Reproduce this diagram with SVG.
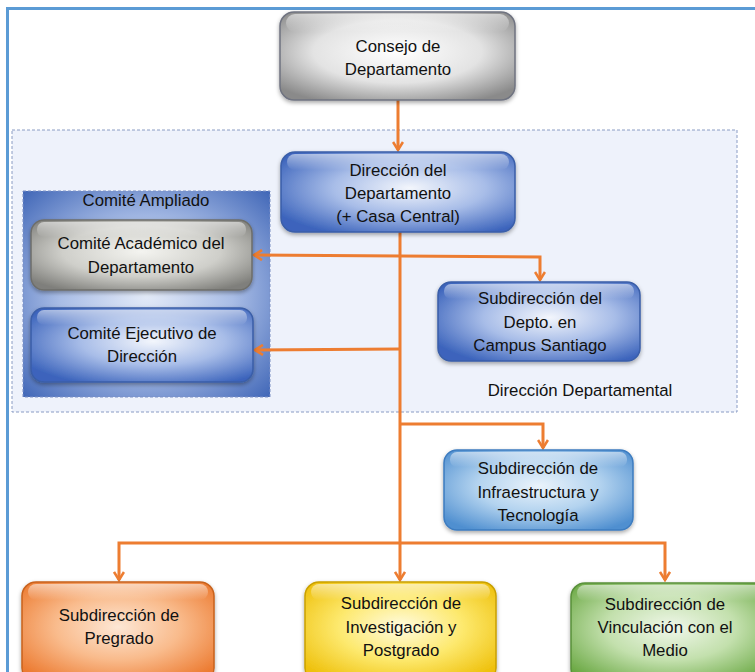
<svg xmlns="http://www.w3.org/2000/svg" width="755" height="672" viewBox="0 0 755 672">
<defs>
<style>
.t{font-family:"Liberation Sans",Arial,sans-serif;font-size:16.8px;fill:#111;text-anchor:middle}
.box{stroke-width:1.5}
.c{fill:none;stroke:#ED7D31;stroke-width:3}
</style>
<radialGradient id="gGray" cx="50%" cy="45%" r="65%"><stop offset="0" stop-color="#ffffff"/><stop offset="0.55" stop-color="#e3e3e3"/><stop offset="1" stop-color="#8a8a8a"/></radialGradient>
<radialGradient id="gGray2" cx="50%" cy="45%" r="65%"><stop offset="0" stop-color="#f4f4f0"/><stop offset="0.55" stop-color="#cfcfca"/><stop offset="1" stop-color="#7f7f7b"/></radialGradient>
<radialGradient id="gBlue" cx="55%" cy="45%" r="65%"><stop offset="0" stop-color="#f3f6fc"/><stop offset="0.5" stop-color="#a8bde8"/><stop offset="1" stop-color="#3c64bc"/></radialGradient>
<radialGradient id="gLBlue" cx="50%" cy="45%" r="65%"><stop offset="0" stop-color="#eaf3fb"/><stop offset="0.5" stop-color="#b3d3ef"/><stop offset="1" stop-color="#4f8fd0"/></radialGradient>
<radialGradient id="gOrange" cx="50%" cy="45%" r="65%"><stop offset="0" stop-color="#fde7d5"/><stop offset="0.5" stop-color="#f9bb8c"/><stop offset="1" stop-color="#ec7a30"/></radialGradient>
<radialGradient id="gYellow" cx="50%" cy="45%" r="65%"><stop offset="0" stop-color="#fffbe0"/><stop offset="0.5" stop-color="#fde96e"/><stop offset="1" stop-color="#eebf08"/></radialGradient>
<radialGradient id="gGreen" cx="50%" cy="45%" r="65%"><stop offset="0" stop-color="#f0f7ea"/><stop offset="0.5" stop-color="#c3e0ad"/><stop offset="1" stop-color="#6aa843"/></radialGradient>
<radialGradient id="gAmp" cx="50%" cy="50%" r="70%"><stop offset="0" stop-color="#e4ebf8"/><stop offset="0.5" stop-color="#a9bde6"/><stop offset="1" stop-color="#4268b8"/></radialGradient>
<linearGradient id="hl" x1="0" y1="0" x2="0" y2="1"><stop offset="0" stop-color="#fff" stop-opacity="0.55"/><stop offset="1" stop-color="#fff" stop-opacity="0"/></linearGradient>
<filter id="sh" x="-10%" y="-10%" width="120%" height="130%"><feDropShadow dx="0" dy="2" stdDeviation="2" flood-color="#000" flood-opacity="0.35"/></filter>
<marker id="arr" viewBox="0 0 12 12" refX="10" refY="6" markerWidth="12" markerHeight="12" markerUnits="userSpaceOnUse" orient="auto"><polyline points="2,1 10,6 2,11" fill="none" stroke="#ED7D31" stroke-width="2.6" stroke-linejoin="miter"/></marker>
</defs>
<rect x="0" y="0" width="755" height="672" fill="#ffffff"/>
<rect x="7.5" y="8.5" width="770" height="700" fill="none" stroke="#5b9bd5" stroke-width="3"/>

<g id="region-direccion-departamental">
<rect x="12" y="130" width="725" height="282" fill="#eef2fb" stroke="#8a9cc4" stroke-width="1" stroke-dasharray="3,2"/>
<text class="t" x="580" y="396">Dirección Departamental</text>
</g>

<g id="comite-ampliado">
<rect x="23" y="191" width="247" height="206" fill="url(#gAmp)" stroke="#7a8fc4" stroke-width="1" stroke-dasharray="3,2"/>
<text class="t" x="146" y="206">Comité Ampliado</text>
</g>

<g id="connectors">
<line class="c" x1="398" y1="100" x2="398" y2="150" marker-end="url(#arr)"/>
<line class="c" x1="400" y1="232" x2="400" y2="580" marker-end="url(#arr)"/>
<polyline class="c" points="400,256 540,257 540,280" marker-end="url(#arr)"/>
<line class="c" x1="400" y1="256" x2="254" y2="255" marker-end="url(#arr)"/>
<line class="c" x1="400" y1="349" x2="255" y2="350" marker-end="url(#arr)"/>
<polyline class="c" points="400,424 543,424 543,448" marker-end="url(#arr)"/>
<polyline class="c" points="400,543 119,543 119,580" marker-end="url(#arr)"/>
<polyline class="c" points="400,543 665,543 665,580" marker-end="url(#arr)"/>
</g>

<g id="consejo">
<rect class="box" x="280" y="12" width="235" height="88" rx="14" fill="url(#gGray)" stroke="#6f7380" filter="url(#sh)"/>
<rect x="286" y="14" width="223" height="18" rx="9" fill="url(#hl)"/>
<text class="t" x="398" y="52">Consejo de</text>
<text class="t" x="398" y="75">Departamento</text>
</g>

<g id="direccion">
<rect class="box" x="281" y="152" width="234" height="80" rx="14" fill="url(#gBlue)" stroke="#3a5ea8" filter="url(#sh)"/>
<rect x="287" y="154" width="222" height="16" rx="8" fill="url(#hl)"/>
<text class="t" x="398" y="176">Dirección del</text>
<text class="t" x="398" y="199">Departamento</text>
<text class="t" x="398" y="222">(+ Casa Central)</text>
</g>

<g id="comite-academico">
<rect class="box" x="31" y="220" width="221" height="70" rx="13" fill="url(#gGray2)" stroke="#6e6e6a" filter="url(#sh)"/>
<rect x="37" y="222" width="209" height="15" rx="7" fill="url(#hl)"/>
<text class="t" x="141" y="249">Comité Académico del</text>
<text class="t" x="141" y="273">Departamento</text>
</g>

<g id="comite-ejecutivo">
<rect class="box" x="31" y="308" width="222" height="74" rx="13" fill="url(#gBlue)" stroke="#3a5ea8" filter="url(#sh)"/>
<rect x="37" y="310" width="210" height="15" rx="7" fill="url(#hl)"/>
<text class="t" x="142" y="339">Comité Ejecutivo de</text>
<text class="t" x="142" y="362">Dirección</text>
</g>

<g id="subdir-santiago">
<rect class="box" x="438" y="282" width="202" height="79" rx="13" fill="url(#gBlue)" stroke="#3a5ea8" filter="url(#sh)"/>
<rect x="444" y="284" width="190" height="15" rx="7" fill="url(#hl)"/>
<text class="t" x="540" y="304">Subdirección del</text>
<text class="t" x="540" y="328">Depto. en</text>
<text class="t" x="540" y="351">Campus Santiago</text>
</g>

<g id="subdir-infra">
<rect class="box" x="444" y="450" width="189" height="80" rx="13" fill="url(#gLBlue)" stroke="#3d7cc0" filter="url(#sh)"/>
<rect x="450" y="452" width="177" height="15" rx="7" fill="url(#hl)"/>
<text class="t" x="538" y="474">Subdirección de</text>
<text class="t" x="538" y="498">Infraestructura y</text>
<text class="t" x="538" y="521">Tecnología</text>
</g>

<g id="subdir-pregrado">
<rect class="box" x="22" y="582" width="192" height="100" rx="14" fill="url(#gOrange)" stroke="#c8621e" filter="url(#sh)"/>
<rect x="28" y="584" width="180" height="16" rx="8" fill="url(#hl)"/>
<text class="t" x="119" y="621">Subdirección de</text>
<text class="t" x="119" y="644">Pregrado</text>
</g>

<g id="subdir-investigacion">
<rect class="box" x="305" y="582" width="191" height="100" rx="14" fill="url(#gYellow)" stroke="#c9a000" filter="url(#sh)"/>
<rect x="311" y="584" width="179" height="16" rx="8" fill="url(#hl)"/>
<text class="t" x="401" y="609">Subdirección de</text>
<text class="t" x="401" y="633">Investigación y</text>
<text class="t" x="401" y="656">Postgrado</text>
</g>

<g id="subdir-vinculacion">
<rect class="box" x="571" y="583" width="200" height="100" rx="14" fill="url(#gGreen)" stroke="#58903a" filter="url(#sh)"/>
<rect x="577" y="585" width="188" height="16" rx="8" fill="url(#hl)"/>
<text class="t" x="665" y="610">Subdirección de</text>
<text class="t" x="665" y="633">Vinculación con el</text>
<text class="t" x="665" y="656">Medio</text>
</g>
</svg>
